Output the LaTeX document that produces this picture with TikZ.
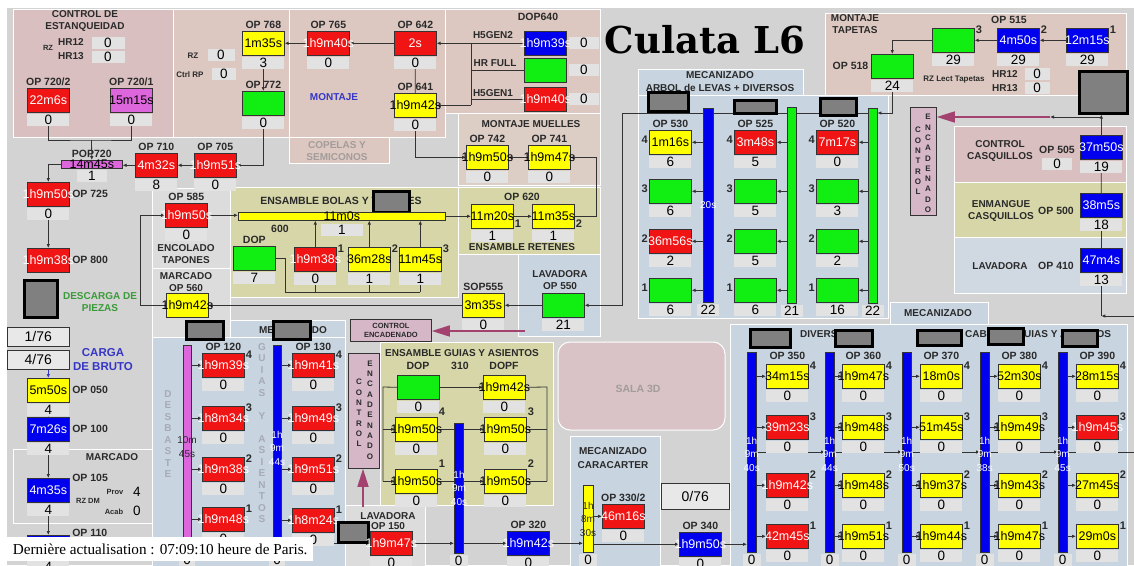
\documentclass[tikz,border=0pt]{standalone}
\usepackage{fontspec}
\setmainfont{Liberation Sans}
\newfontfamily\titlefont{DejaVu Serif}
\newfontfamily\stampfont{Liberation Serif}
\usepackage{xcolor}
\usepackage{tikz}
\usetikzlibrary{arrows.meta,positioning}

\pgfdeclarelayer{bg}
\pgfdeclarelayer{wires}
\pgfsetlayers{bg,wires,main}

\definecolor{bggray}{HTML}{D3D3D3}
\definecolor{pinkA}{HTML}{D9BFBF}
\definecolor{tanA}{HTML}{DCC8C0}
\definecolor{tanB}{HTML}{DCCDC5}
\definecolor{olive}{HTML}{D6D6A8}
\definecolor{lblue}{HTML}{C8D4E0}
\definecolor{lblue2}{HTML}{D0D8E2}
\definecolor{lgray}{HTML}{DCDCDC}
\definecolor{valgray}{HTML}{E2E2E2}
\definecolor{framefill}{HTML}{E8E8E8}
\definecolor{cred}{HTML}{F01414}
\definecolor{cyellow}{HTML}{FFFF00}
\definecolor{cgreen}{HTML}{11EE11}
\definecolor{cblue}{HTML}{0000EE}
\definecolor{cviolet}{HTML}{DD66DD}
\definecolor{stackgray}{HTML}{808080}
\definecolor{boxline}{HTML}{333333}
\definecolor{wirec}{HTML}{333333}
\definecolor{mauve}{HTML}{D6B7C8}
\definecolor{magarr}{HTML}{A3416F}
\definecolor{txtdark}{HTML}{2A2A2A}
\definecolor{descgreen}{HTML}{3A9A3A}
\definecolor{cargablue}{HTML}{3636C8}
\definecolor{fadegray}{HTML}{A39C9C}
\definecolor{vletter}{HTML}{A6AAB6}
\definecolor{salapink}{HTML}{D9C3C6}

\begin{document}
\begin{tikzpicture}[
  x=1pt, y=-1pt,
  panel/.style={draw=white, line width=1pt, fill=#1},
  op/.style={draw=boxline, line width=0.6pt, fill=#1, anchor=north west, minimum width=42pt, minimum height=24pt, inner xsep=-20pt, inner ysep=0pt, font=\fontsize{12.5}{12.5}\selectfont},
  opY/.style={op=cyellow},
  opG/.style={op=cgreen},
  opV/.style={op=cviolet},
  opR/.style={op=cred, text=white},
  opB/.style={op=cblue, text=white},
  val/.style={fill=valgray, minimum width=42pt, minimum height=12pt, inner sep=0pt, font=\fontsize{13.5}{13.5}\selectfont},
  lbl/.style={font=\bfseries\fontsize{10}{12}\selectfont, text=txtdark, align=center, inner sep=0pt},
  oplbl/.style={font=\bfseries\fontsize{10.5}{11}\selectfont, text=txtdark, inner sep=2.5pt},
  small/.style={font=\bfseries\fontsize{7.5}{8}\selectfont, text=txtdark, inner sep=0pt},
  num/.style={font=\bfseries\fontsize{11}{11}\selectfont, text=txtdark, inner sep=1pt},
  rnum/.style={label={[num, anchor=west, yshift=-2pt]north east:#1}},
  tnum/.style={label={[num, anchor=south west]north east:#1}},
  lnum/.style={label={[num, anchor=east, yshift=3pt]west:#1}},
  brnum/.style={label={[num, anchor=west, yshift=5pt]south east:#1}},
  vbar/.style={fill=#1, draw=boxline, line width=0.4pt, anchor=north west, inner sep=0pt, minimum width=9pt},
  barw/.style={text=white, font=\fontsize{10}{13.5}\selectfont, align=center, inner sep=0pt},
  bardark/.style={barw, text=txtdark},
  stack/.style={draw=black, line width=3pt, fill=stackgray, anchor=north west, inner sep=0pt},
  ctrl/.style={draw=boxline, line width=0.8pt, fill=mauve, anchor=north west, inner sep=0pt},
  vlet/.style={align=center, font=\bfseries\fontsize{8}{10.3}\selectfont, text=txtdark, inner sep=0pt},
  cntbox/.style={draw=boxline, line width=0.6pt, fill=framefill, anchor=north west, inner sep=0pt, font=\fontsize{14}{14}\selectfont},
  line/.style={draw=wirec, line width=0.8pt, -{Latex[length=4pt, width=3.5pt]}},
  conn/.style={draw=wirec, line width=0.8pt},
  magarrow/.style={draw=magarr, line width=1.6pt, -{Triangle[length=18pt, width=11pt]}}
]
\useasboundingbox (0,0) rectangle (1134,565);

% control de estanqueidad
\node[lbl] (tEst) at (85,21) {CONTROL DE\\ESTANQUEIDAD};
\node[small] (tRzA) at (48,48) {RZ};
\node[lbl] (tHr12a) at (71,42) {HR12};
\node[lbl] (tHr13a) at (71,56) {HR13};
\node[val, minimum width=33pt] (vHr12a) at (108,43) {0};
\node[val, minimum width=33pt] (vHr13a) at (108,57) {0};
\node[opR, label={[oplbl]above:OP 720/2}] (op7202) at (27,88) {22m6s};
\node[val, below=1pt of op7202] (v7202) {0};
\node[opV, label={[oplbl]above:OP 720/1}] (op7201) at (110,88) {15m15s};
\node[val, below=1pt of op7201] (v7201) {0};
\node[opV, minimum width=61pt, minimum height=8pt, inner ysep=-4pt, inner xsep=0pt, label={[oplbl]above:POP720}] (pop720) at (61,160) {14m45s};
\node[val, minimum width=30pt, below=1pt of pop720] (vpop720) {1};
\node[opR, label={[oplbl]above:OP 710}] (op710) at (135,153) {4m32s};
\node[val, below=1pt of op710] (v710) {8};
\node[opR, label={[oplbl]above:OP 705}] (op705) at (194,153) {1h9m51s};
\node[val, below=1pt of op705] (v705) {0};

% RZ / OP768 / OP772
\node[small, font=\bfseries\fontsize{8}{8}\selectfont] (tRzB) at (193,56) {RZ};
\node[val, minimum width=27pt] (vRzB) at (221,55) {0};
\node[small, font=\bfseries\fontsize{8}{8}\selectfont] (tCtrlRp) at (190,75) {Ctrl RP};
\node[val, minimum width=24pt] (vCtrlRp) at (224,74) {0};
\node[opY, label={[oplbl]above:OP 768}] (op768) at (242,31) {1m35s};
\node[val, below=1pt of op768] (v768) {3};
\node[opG, label={[oplbl]above:OP 772}] (op772) at (242,91) {};
\node[val, below=1pt of op772] (v772) {0};

% montaje
\node[opR, label={[oplbl]above:OP 765}] (op765) at (307,31) {1h9m40s};
\node[val, below=1pt of op765] (v765) {0};
\node[opR, label={[oplbl]above:OP 642}] (op642) at (394,31) {2s};
\node[val, below=1pt of op642] (v642) {0};
\node[opY, label={[oplbl]above:OP 641}] (op641) at (394,93) {1h9m42s};
\node[val, below=1pt of op641] (v641) {0};
\node[lbl, text=cargablue] (tMontaje) at (334,97) {MONTAJE};
\node[lbl, text=fadegray] (tCopelas) at (337,151) {COPELAS Y\\SEMICONOS};

% DOP640
\node[oplbl] (tDop640) at (538,17) {DOP640};
\node[lbl] (tH5a) at (493,35) {H5GEN2};
\node[lbl] (tHrFull) at (495,63) {HR FULL};
\node[lbl] (tH5b) at (493,93) {H5GEN1};
\node[opB] (dopA) at (524,31) {1h9m39s};
\node[val, minimum width=30pt, right=2pt of dopA] (vdopA) {0};
\node[opG] (dopB) at (524,58) {};
\node[val, minimum width=30pt, right=2pt of dopB] (vdopB) {0};
\node[opR] (dopC) at (524,87) {1h9m40s};
\node[val, minimum width=30pt, right=2pt of dopC] (vdopC) {0};

% montaje muelles
\node[lbl] (tMuelles) at (531,124) {MONTAJE MUELLES};
\node[opY, label={[oplbl]above:OP 742}] (op742) at (466,145) {1h9m50s};
\node[val, below=1pt of op742] (v742) {0};
\node[opY, label={[oplbl]above:OP 741}] (op741) at (528,145) {1h9m47s};
\node[val, below=1pt of op741] (v741) {0};

\node[font=\titlefont\bfseries\fontsize{37}{37}\selectfont, inner sep=0pt] (title) at (705,40) {Culata L6};

% mecanizado arbol de levas
\node[lbl, font=\bfseries\fontsize{10}{13}\selectfont] (tArbol) at (720,82) {MECANIZADO\\ARBOL de LEVAS + DIVERSOS};
\node[vbar=cblue, minimum width=10pt, minimum height=194pt] (b530) at (703,108) {};
\node[vbar=cgreen, minimum height=196pt] (b525) at (787,107) {};
\node[vbar=cgreen, minimum height=195pt] (b520) at (868,108) {};
\node[barw] (tb530) at (b530.center) {20s};
\node[val, minimum width=22pt, below=1pt of b530] (vb530) {22};
\node[val, minimum width=22pt, below=1pt of b525] (vb525) {21};
\node[val, minimum width=22pt, below=1pt of b520] (vb520) {22};
\foreach \c/\r/\x/\y/\s/\t/\v in {
  530/4/649/130/opY/1m16s/6, 530/3/649/179/opG/{}/6, 530/2/649/229/opR/36m56s/2, 530/1/649/278/opG/{}/6,
  525/4/734/130/opR/3m48s/5, 525/3/734/179/opG/{}/5, 525/2/734/229/opG/{}/5, 525/1/734/278/opG/{}/6,
  520/4/816/130/opR/7m17s/0, 520/3/816/179/opG/{}/3, 520/2/816/229/opG/{}/2, 520/1/816/278/opG/{}/16}
{
  \node[\s, lnum=\r] (o\c-\r) at (\x,\y) {\t};
  \node[val, below=1pt of o\c-\r] (v\c-\r) {\v};
}
\foreach \c in {530,525,520}
  \node[oplbl, above=0pt of o\c-4] (l\c) {OP \c};
\node[stack, minimum width=40pt, minimum height=19pt] (s530) at (646.5,90.5) {};
\node[stack, minimum width=42pt, minimum height=13pt] (s525) at (732.5,98.5) {};
\node[stack, minimum width=36pt, minimum height=17pt] (s520) at (818.5,96.5) {};

% montaje tapetas
\node[lbl] (tTapetas) at (855,24) {MONTAJE\\TAPETAS};
\node[oplbl] (l515) at (1009,20) {OP 515};
\node[opG, rnum=3] (t3) at (932,28) {};
\node[val, below=1pt of t3] (vt3) {29};
\node[opB, rnum=2] (t2) at (997,28) {4m50s};
\node[val, below=1pt of t2] (vt2) {29};
\node[opB, rnum=1] (t1) at (1066,28) {12m15s};
\node[val, below=1pt of t1] (vt1) {29};
\node[opG, label={[oplbl]left:OP 518}] (op518) at (871,54) {};
\node[val, below=1pt of op518] (v518) {24};
\node[small, font=\bfseries\fontsize{8}{8}\selectfont] (tRzLect) at (954,80) {RZ Lect Tapetas};
\node[lbl] (tHr12b) at (1005,74) {HR12};
\node[val, minimum width=25pt] (vHr12b) at (1037,74) {0};
\node[lbl] (tHr13b) at (1005,88) {HR13};
\node[val, minimum width=25pt] (vHr13b) at (1037,88) {0};
\node[stack, minimum width=48pt, minimum height=42pt] (s515) at (1077.5,69.5) {};

% casquillos
\node[lbl] (tCasq) at (1000,151) {CONTROL\\CASQUILLOS};
\node[oplbl] (l505) at (1057,150) {OP 505};
\node[val, minimum width=30pt] (v505b) at (1057,164) {0};
\node[opB] (op505) at (1080,135) {37m50s};
\node[val, below=1pt of op505] (v505) {19};
\node[lbl] (tEnm) at (1001,211) {ENMANGUE\\CASQUILLOS};
\node[oplbl] (l500) at (1056,211) {OP 500};
\node[opB] (op500) at (1080,193) {38m5s};
\node[val, below=1pt of op500] (v500) {18};
\node[lbl] (tLav410) at (1000,266) {LAVADORA};
\node[oplbl] (l410) at (1056,266) {OP 410};
\node[opB] (op410) at (1080,248) {47m4s};
\node[val, below=1pt of op410] (v410) {13};
\node[ctrl, minimum width=26pt, minimum height=108pt] (ctrlR) at (910,107) {};
\node[vlet] (tCtrlR1) at (918,161) {C\\O\\N\\T\\R\\O\\L};
\node[vlet] (tCtrlR2) at (928,163.5) {E\\N\\C\\A\\D\\E\\N\\A\\D\\O};

% mecanizado diversos
\node[lbl] (tMecR) at (938,313) {MECANIZADO};
\node[lbl, anchor=west] (tDiv) at (800,334) {DIVERSOS};
\node[lbl, anchor=west] (tCab) at (965,334) {CABEZAS GUIAS Y ASIENTOS};
\foreach \c/\x/\t in {350/747/{1h\\9m\\40s}, 360/825/{1h\\9m\\44s}, 370/902/{1h\\9m\\50s}, 380/980/{1h\\9m\\38s}, 390/1058/{1h\\9m\\45s}}
{
  \node[vbar=cblue, minimum height=200pt] (b\c) at (\x,352) {};
  \node[barw] (tb\c) at ([yshift=-2pt]b\c.center) {\t};
  \node[val, minimum width=18pt, below=1pt of b\c] (vb\c) {0};
}
\foreach \c/\r/\x/\y/\s/\t in {
  350/4/766/364/opY/34m15s, 350/3/766/415/opR/39m23s, 350/2/766/473/opR/1h9m42s, 350/1/766/524/opR/42m45s,
  360/4/842/364/opY/1h9m47s, 360/3/842/415/opY/1h9m48s, 360/2/842/473/opY/1h9m48s, 360/1/842/524/opY/1h9m51s,
  370/4/920/364/opY/18m0s, 370/3/920/415/opY/51m45s, 370/2/920/473/opY/1h9m37s, 370/1/920/524/opY/1h9m44s,
  380/4/998/364/opY/52m30s, 380/3/998/415/opY/1h9m49s, 380/2/998/473/opY/1h9m43s, 380/1/998/524/opY/1h9m47s,
  390/4/1076/364/opY/28m15s, 390/3/1076/415/opR/1h9m45s, 390/2/1076/473/opY/27m45s, 390/1/1076/524/opY/29m0s}
{
  \node[\s, rnum=\r] (o\c-\r) at (\x,\y) {\t};
  \node[val, below=1pt of o\c-\r] (v\c-\r) {0};
}
\foreach \c in {350,360,...,390}
  \node[oplbl, above=2pt of o\c-4] (l\c) {OP \c};
\node[stack, minimum width=40pt, minimum height=18pt] (sR1) at (748.5,327.5) {};
\node[stack, minimum width=37pt, minimum height=16pt] (sR2) at (833.5,328.5) {};
\node[stack, minimum width=44pt, minimum height=15pt] (sR3) at (915.5,328.5) {};
\node[stack, minimum width=35pt, minimum height=16pt] (sR4) at (986.5,326.5) {};
\node[stack, minimum width=35pt, minimum height=16pt] (sR5) at (1060.5,328.5) {};

% left column
\node[opR, label={[oplbl]right:OP 725}] (op725) at (27,182) {1h9m50s};
\node[val, below=1pt of op725] (v725) {0};
\node[opR, label={[oplbl]right:OP 800}] (op800) at (27,248) {1h9m38s};
\node[stack, minimum width=33pt, minimum height=37pt] (sDes) at (22.5,278.5) {};
\node[lbl, text=descgreen] (tDes) at (100,302) {DESCARGA DE\\PIEZAS};
\node[cntbox, minimum width=62pt, minimum height=19pt] (box176) at (7,327) {1/76};
\node[cntbox, minimum width=62pt, minimum height=19pt] (box476) at (7,350) {4/76};
\node[lbl, text=cargablue, font=\bfseries\fontsize{11.5}{14}\selectfont] (tCarga) at (103,360) {CARGA\\DE BRUTO};
\node[opY, label={[oplbl]right:OP 050}] (op050) at (27,378) {5m50s};
\node[val, below=1pt of op050] (v050) {4};
\node[opB, label={[oplbl]right:OP 100}] (op100) at (27,417) {7m26s};
\node[val, below=1pt of op100] (v100) {4};
\node[lbl] (tMarcA) at (112,457) {MARCADO};
\node[opB, label={[oplbl, anchor=west]north east:OP 105}] (op105) at (27,478) {4m35s};
\node[val, below=1pt of op105] (v105) {4};
\node[small] (tProv) at (115,492) {Prov};
\node[inner sep=0pt, font=\fontsize{13.5}{13.5}\selectfont] (nProv) at (137,492) {4};
\node[small] (tRzDm) at (88,501) {RZ DM};
\node[small] (tAcab) at (114,512) {Acab};
\node[inner sep=0pt, font=\fontsize{13.5}{13.5}\selectfont] (nAcab) at (137,511) {0};
\node[opB, label={[oplbl, anchor=west, yshift=2pt]north east:OP 110}] (op110) at (27,535) {};
\node[val, below=1pt of op110] (v110) {4};

% encolado / marcado
\node[opR, label={[oplbl]above:OP 585}] (op585) at (165,203) {1h9m50s};
\node[val, below=1pt of op585] (v585) {0};
\node[lbl] (tEnc) at (186,254) {ENCOLADO\\TAPONES};
\node[lbl] (tMarcB) at (186,282) {MARCADO\\OP 560};
\node[opY] (op560) at (166,293) {1h9m42s};
\node[stack, minimum width=37pt, minimum height=18pt] (s560) at (184.5,319.5) {};

% ensamble bolas
\node[lbl, font=\bfseries\fontsize{10.5}{12}\selectfont] (tBolas) at (341,201) {ENSAMBLE BOLAS Y TAPONES};
\node[stack, minimum width=36pt, minimum height=21pt] (sBolas) at (371.5,189.5) {};
\node[opY, minimum width=207pt, minimum height=8pt, inner ysep=-4pt, inner xsep=0pt] (bar600) at (238,212) {11m0s};
\node[val, below=3pt of bar600] (vbar600) {1};
\node[oplbl] (t600) at (280,229) {600};
\node[opG, label={[oplbl]above:DOP}] (dopE) at (233,246) {};
\node[val, below=1pt of dopE] (vdopE) {7};
\node[opR, rnum=1] (e1) at (294,247) {1h9m38s};
\node[val, below=1pt of e1] (ve1) {0};
\node[opY, rnum=2] (e2) at (348,247) {36m28s};
\node[val, below=1pt of e2] (ve2) {1};
\node[opY, rnum=3] (e3) at (399,247) {11m45s};
\node[val, below=1pt of e3] (ve3) {1};

% ensamble retenes
\node[oplbl] (l620) at (522,197) {OP 620};
\node[opY, brnum=1] (r1) at (471,204) {11m20s};
\node[val, below=1pt of r1] (vr1) {1};
\node[opY, brnum=2] (r2) at (532,204) {11m35s};
\node[val, below=1pt of r2] (vr2) {1};
\node[lbl] (tRet) at (522,247) {ENSAMBLE RETENES};

% lavadora 550
\node[lbl] (tLav550) at (560,280) {LAVADORA\\OP 550};
\node[opG] (op550) at (542,293) {};
\node[val, below=1pt of op550] (v550) {21};
\node[opY, label={[oplbl]above:SOP555}] (sop555) at (462,293) {3m35s};
\node[val, below=1pt of sop555] (v555) {0};
\node[ctrl, minimum width=81pt, minimum height=22pt, font=\bfseries\fontsize{7.5}{8.5}\selectfont, align=center, text=txtdark] (ctrlH) at (350,319) {CONTROL\\ENCADENADO};

% mecanizado guias y asientos
\node[lbl] (tMecL) at (293,330) {MECANIZADO};
\node[stack, minimum width=37pt, minimum height=18pt] (s130) at (271.5,319.5) {};
\node[vlet, text=vletter, font=\bfseries\fontsize{10}{11.5}\selectfont] (tDesb) at (168,434) {D\\E\\S\\B\\A\\S\\T\\E};
\node[vlet, text=vletter, font=\bfseries\fontsize{10}{11.5}\selectfont] (tGuiasV) at (262,433) {G\\U\\I\\A\\S\\[11.5pt]Y\\[11.5pt]A\\S\\I\\E\\N\\T\\O\\S};
\node[vbar=cviolet, minimum width=8pt, minimum height=207pt] (b120) at (183,345) {};
\node[vbar=cblue, minimum width=8pt, minimum height=207pt] (b130) at (273,345) {};
\node[bardark] (tb120) at (187,447) {10m\\45s};
\node[barw] (tb130) at (277,448) {1h\\9m\\44s};
\node[val, minimum width=16pt, below=1pt of b120] (vb120) {0};
\node[val, minimum width=16pt, below=1pt of b130] (vb130) {0};
\foreach \c/\r/\x/\y/\t in {120/4/202/353/1h9m39s, 120/3/202/406/1h8m34s, 120/2/202/457/1h9m38s, 120/1/202/507/1h9m48s,
  130/4/292/353/1h9m41s, 130/3/292/406/1h9m49s, 130/2/292/457/1h9m51s, 130/1/292/508/1h8m24s}
{
  \node[opR, rnum=\r] (o\c-\r) at (\x,\y) {\t};
  \node[val, below=1pt of o\c-\r] (v\c-\r) {0};
}
\node[oplbl, above=0pt of o120-4] (l120) {OP 120};
\node[oplbl, above=0pt of o130-4] (l130) {OP 130};
\node[ctrl, minimum width=31pt, minimum height=115pt] (ctrlL) at (348,353) {};
\node[vlet] (tCtrlL1) at (359,413) {C\\O\\N\\T\\R\\O\\L};
\node[vlet] (tCtrlL2) at (370,410) {E\\N\\C\\A\\D\\E\\N\\A\\D\\O};

% ensamble guias y asientos
\node[lbl] (tGuiasT) at (462,353) {ENSAMBLE GUIAS Y ASIENTOS};
\node[oplbl] (tDop310) at (418,366) {DOP};
\node[oplbl] (t310) at (460,366) {310};
\node[oplbl] (tDopf) at (504,366) {DOPF};
\node[opG] (g310d) at (397,375) {};
\node[val, below=1pt of g310d] (vg310d) {0};
\node[opY] (g310f) at (483,375) {1h9m42s};
\node[val, below=1pt of g310f] (vg310f) {0};
\node[opY, tnum=4] (g310-4) at (395,417) {1h9m50s};
\node[val, below=1pt of g310-4] (vg310-4) {0};
\node[opY, tnum=1] (g310-1) at (395,469) {1h9m50s};
\node[val, below=1pt of g310-1] (vg310-1) {0};
\node[opY, tnum=3] (g310-3) at (484,417) {1h9m50s};
\node[val, below=1pt of g310-3] (vg310-3) {0};
\node[opY, tnum=2] (g310-2) at (484,469) {1h9m50s};
\node[val, below=1pt of g310-2] (vg310-2) {0};
\node[vbar=cblue, minimum height=130pt] (b310) at (454,423) {};
\node[barw] (tb310) at (459,488) {1h\\9m\\40s};
\node[val, minimum width=18pt, below=1pt of b310] (vb310) {0};

% lavadora 150 .. op340
\node[lbl, font=\bfseries\fontsize{10}{10}\selectfont] (tLav150) at (388,521) {LAVADORA\\OP 150};
\node[stack, minimum width=30pt, minimum height=20pt] (s150) at (336.5,520.5) {};
\node[opR] (op150) at (370,531) {1h9m47s};
\node[val, below=1pt of op150] (v150) {0};
\node[opB, label={[oplbl]above:OP 320}] (op320) at (507,531) {1h9m42s};
\node[val, below=1pt of op320] (v320) {0};
\node[lbl, text=fadegray, font=\bfseries\fontsize{10.5}{12}\selectfont] (tSala) at (638,389) {SALA 3D};
\node[lbl, font=\bfseries\fontsize{10}{14}\selectfont] (tCarac) at (613,458) {MECANIZADO\\CARACARTER};
\node[vbar=cyellow, minimum width=10pt, minimum height=67pt] (b330) at (583,485) {};
\node[bardark] (tb330) at (588,519) {1h\\8m\\30s};
\node[val, minimum width=18pt, below=1pt of b330] (vb330) {0};
\node[opR, label={[oplbl]above:OP 330/2}] (op3302) at (602,504) {46m16s};
\node[val, below=1pt of op3302] (v3302) {0};
\node[cntbox, minimum width=68pt, minimum height=26pt] (box076) at (661,483) {0/76};
\node[opB, label={[oplbl]above:OP 340}] (op340) at (679,532) {1h9m50s};
\node[val, below=1pt of op340] (v340) {0};

\coordinate (j720) at (91.5,140);
\coordinate (jdop) at (471,43);
\coordinate (j550) at (622,113);
\coordinate (ebus) at (285,292);
\coordinate (j505) at (1101,117);
\coordinate (m505) at (1050,117);
\coordinate (e410) at (1134,316);
\coordinate (e390) at (1134,452);
\coordinate (lbus) at (383,387);
\coordinate (rbus) at (547,387);
\coordinate (mH) at (525,331);
\coordinate (mL) at (363,507);

\begin{pgfonlayer}{bg}
\fill[white] (0,0) rectangle (1134,565);
\fill[bggray] (7,8) rectangle (1134,565);
\draw[panel=pinkA] (13,9) rectangle (173,137);
\draw[panel=tanA] (173,9) rectangle (289,137);
\draw[panel=tanA] (289,9) rectangle (445,137);
\draw[panel=tanA] (289,137) rectangle (389,163);
\draw[panel=tanA] (445,9) rectangle (600,113);
\draw[panel=tanB] (458,113) rectangle (600,185);
\draw[panel=lgray] (152,188) rectangle (230,268);
\draw[panel=lgray] (152,268) rectangle (230,337);
\draw[panel=olive] (230,187) rectangle (458,297);
\draw[panel=olive] (458,187) rectangle (600,254);
\draw[panel=lblue] (518,254) rectangle (600,336);
\draw[panel=lblue] (638,69) rectangle (803,95);
\draw[panel=lblue] (638,95) rectangle (888,318);
\draw[panel=tanA] (825,13) rectangle (1126,95);
\draw[panel=pinkA] (954,126) rectangle (1126,182);
\draw[panel=olive] (954,182) rectangle (1126,237);
\draw[panel=lblue2] (954,237) rectangle (1126,293);
\draw[panel=lblue] (890,302) rectangle (988,324);
\draw[panel=lblue] (730,324) rectangle (1127,570);
\draw[panel=lblue] (230,320) rectangle (345,337);
\draw[panel=lblue] (152,337) rectangle (345,570);
\draw[panel=lgray] (345,505) rectangle (425,570);
\draw[panel=olive] (380,342) rectangle (553,505);
\draw[panel=lblue] (570,436) rectangle (660,570);
\draw[panel=salapink, rounded corners=12pt] (558,342) rectangle (725,430);
\draw[white, line width=1pt] (13,449) rectangle (152,523);
\end{pgfonlayer}

\begin{pgfonlayer}{wires}
% upper left chain
\draw[conn] (v7202.south) |- (j720) -| (v7201.south);
\draw[line] (j720) -- (pop720.north);
\draw[line] (pop720.west) -| (op725.north);
\draw[line] (op710.west) -- (op710.west -| pop720.east);
\draw[line] (op705.west) -- (op710.east);
\draw[line] (v772.south) |- (op705.east);
\draw[line] (v768.south) -- (op772.north);
\draw[line] (op765.west) -- (op768.east);
\draw[line] (op642.west) -- (op765.east);
\draw[line] (dopA.west) -- (op642.east);
\draw[conn] (jdop) -- (jdop |- op641.east);
\draw[conn] (dopB.west) -- (dopB.west -| jdop);
\draw[conn] (dopC.west) -- (dopC.west -| jdop);
\draw[line] (jdop |- op641.east) -- (op641.east);
\draw[conn] (op641.north) -- (v642.south);
\draw[line] (v641.south) |- (op742.west);
\draw[line] (op741.west) -- (op742.east);
\draw[line] (r2.east) -- ++(22,0) |- (op741.east);
\draw[line] (r1.east) -- (r2.west);
\draw[line] (bar600.east) -- (bar600.east -| r1.west);
\draw[line] (op585.east) -- (op585.east -| bar600.west);
\foreach \e in {e1,e2,e3}
  \draw[line] (\e.north) -- (\e.north |- bar600.south);
\draw[conn] (dopE.east) -| (ebus) -- (ebus -| ve3.south);
\foreach \e in {ve1,ve2,ve3}
  \draw[conn] (\e.south) -- (\e.south |- ebus);
\draw[line] (op560.west) -- ++(-26,0) |- (op585.west);
\draw[line] (sop555.west) -- (op560.east);
\draw[line] (op550.west) -- (sop555.east);
% arbol de levas, tapetas, casquillos
\draw[line] (b520.west |- j550) -- (j550) |- (op550.east);
\draw[line] (v518.south) |- (b520.east |- j550);
\foreach \c in {530,525,520}
  \foreach \r in {1,...,4}
    \draw[line] (b\c.west |- o\c-\r.east) -- (o\c-\r.east);
\draw[line] (t1.west) -- (t2.east);
\draw[line] (t2.west) -- (t3.east);
\draw[line] (t3.west) -| (op518.north);
\draw[conn] (op410.north) -- (v500.south);
\draw[conn] (op500.north) -- (v505.south);
\draw[line] (op505.north) -- (op505.north |- s515.south);
\draw[line] (j505) -- (m505);
\draw[line] (e410) -- (e410 -| v410.south);
\draw[conn] (e410 -| v410.south) -- (v410.south);
% mecanizado diversos
\foreach \c in {350,360,...,390}
  \foreach \r in {1,...,4}
    \draw[line] (b\c.east |- o\c-\r.west) -- (o\c-\r.west);
\foreach \a/\b in {350/360,360/370,370/380,380/390}
  \draw[line] (b\a.east |- e390) -- (b\b.west |- e390);
\draw[conn] (b390.east |- e390) -- (e390);
% left column
\draw[line] (v725.south) -- (op800.north);
\draw[line, draw=cargablue] (op050.north |- box476.south) -- (op050.north);
\draw[line] (v050.south) -- (op100.north);
\draw[line] (v100.south) -- (op105.north);
\draw[line] (v105.south) -- (op110.north);
% guias y asientos
\foreach \r in {1,...,4} {
  \draw[line] (b120.east |- o120-\r.west) -- (o120-\r.west);
  \draw[line] (b130.east |- o130-\r.west) -- (o130-\r.west);
}
\draw[line] (g310d.east) -- (g310f.west);
\draw[conn] (g310d.west) -- (lbus) -- (lbus |- g310-1.west);
\draw[line] (lbus |- g310-4.west) -- (g310-4.west);
\draw[line] (lbus |- g310-1.west) -- (g310-1.west);
\draw[conn] (g310f.east) -- (rbus) -- (rbus |- g310-2.east);
\draw[conn] (g310-3.east) -- (rbus |- g310-3.east);
\draw[conn] (g310-2.east) -- (rbus |- g310-2.east);
\draw[conn] (g310-4.east) -- (g310-4.east -| b310.west);
\draw[conn] (g310-1.east) -- (g310-1.east -| b310.west);
\draw[line] (b310.east |- g310-3.west) -- (g310-3.west);
\draw[line] (b310.east |- g310-2.west) -- (g310-2.west);
% lower chain
\draw[line] (b130.east |- op150.west) -- (op150.west);
\draw[line] (op150.east) -- (op150.east -| b310.west);
\draw[line] (op150.east -| b310.east) -- (op320.west);
\draw[line] (op320.east) -- (op320.east -| b330.west);
\draw[line] (b330.east |- op3302.west) -- (op3302.west);
\draw[line] (op340.west -| b330.east) -- (op340.west);
\draw[line] (op340.east) -- (op340.east -| b350.west);
\end{pgfonlayer}

\draw[magarrow] (m505) -- (ctrlR.east |- m505);
\draw[magarrow] (mH) -- (ctrlH.east |- mH);
\draw[magarrow] (mL) -- (mL |- ctrlL.south);

\node[fill=white, anchor=north west, minimum width=306pt, minimum height=24pt, inner sep=0pt, font=\stampfont\fontsize{15.2}{16}\selectfont] (stamp) at (7,537) {\mbox{Dernière actualisation : 07:09:10 heure de Paris.}};
\end{tikzpicture}
\end{document}
